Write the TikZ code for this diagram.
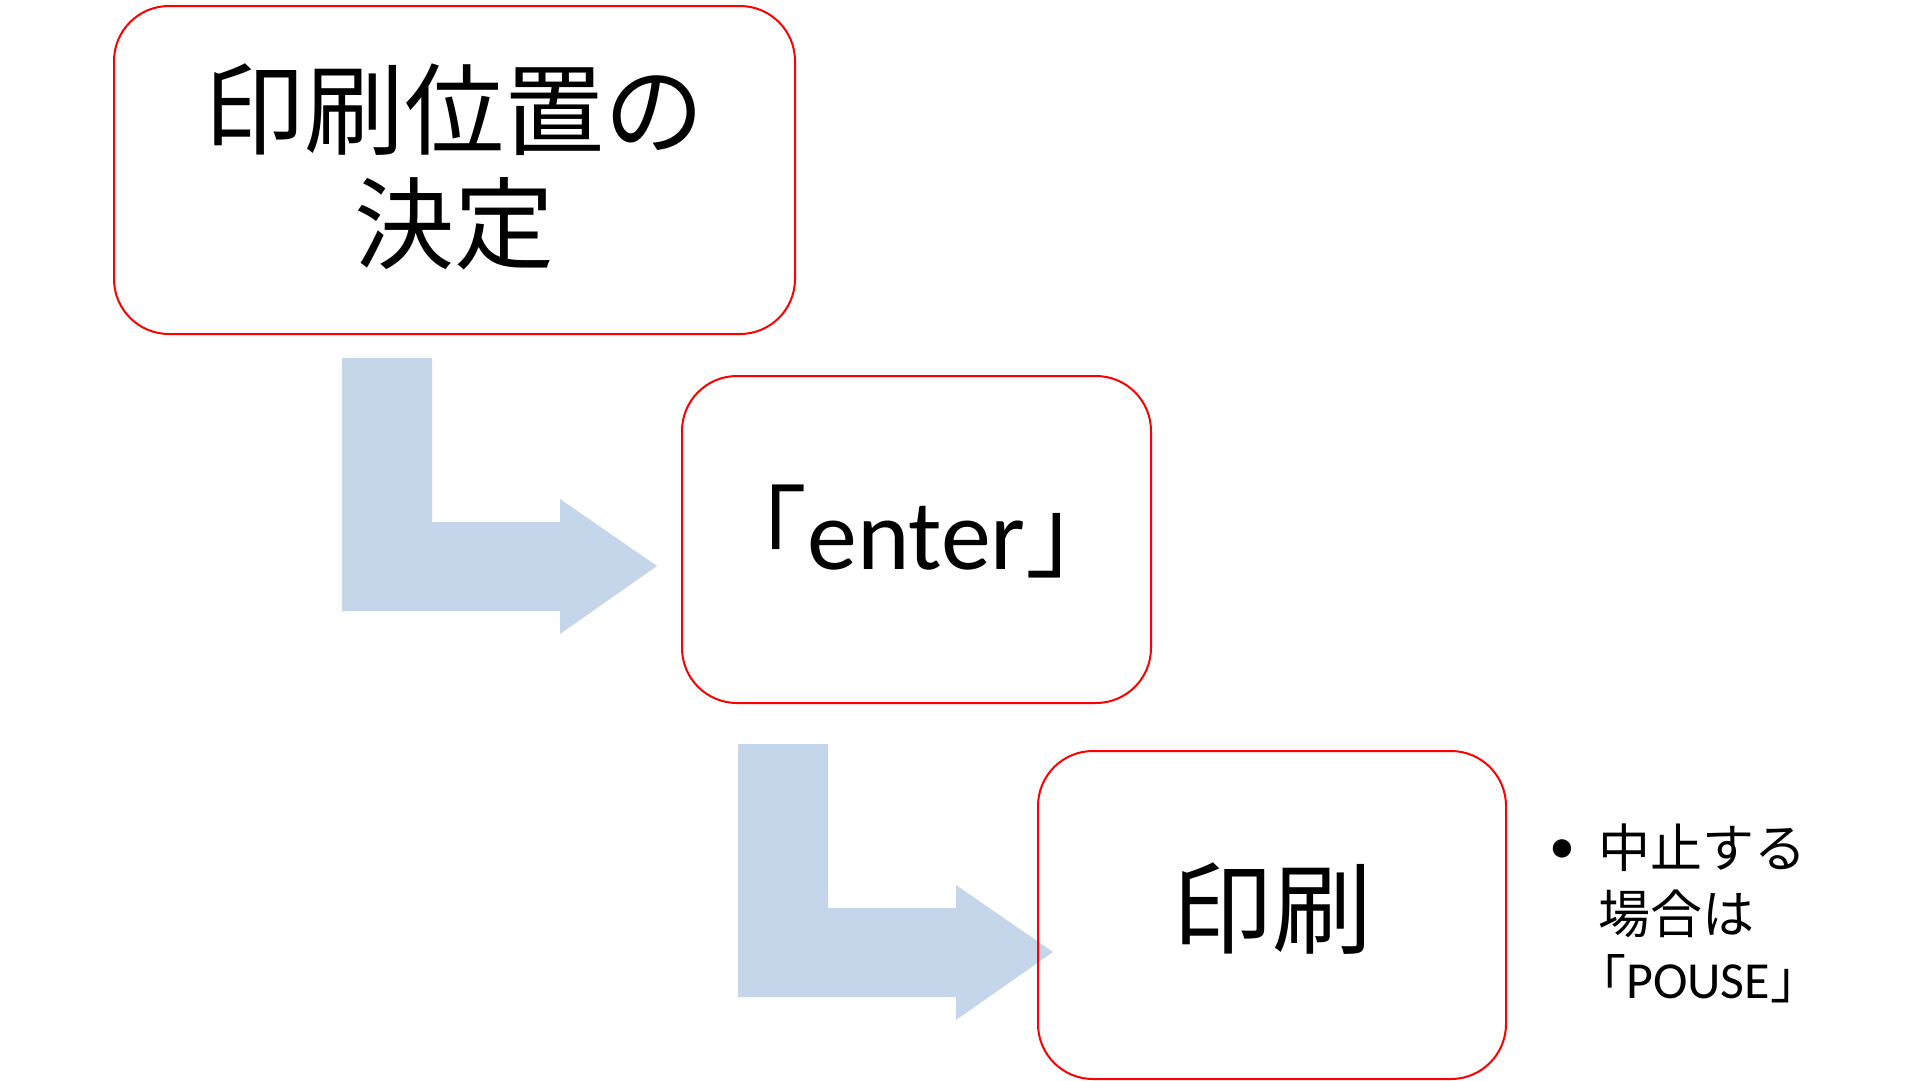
\documentclass[tikz,border=0pt]{standalone}
\usepackage{fontspec}
\setmainfont{Carlito}
\newfontfamily\cjk{Noto Sans CJK JP}
\definecolor{arrowblue}{RGB}{197,213,234}
\definecolor{boxred}{RGB}{255,0,0}
\tikzset{
  flowbox/.style={draw=boxred, line width=2pt, rounded corners=55pt, inner sep=0pt},
  bigtext/.style={font=\fontsize{100}{114}\selectfont, inner sep=0pt, align=center},
  bendarrow/.style={fill=arrowblue, draw=none},
  smalltext/.style={font=\fontsize{52}{65.5}\selectfont\cjk, inner sep=0pt, align=left}
}
\begin{document}
\begin{tikzpicture}[x=1pt,y=-1pt]
\useasboundingbox[fill=white] (0,0) rectangle (1920,1080);
% bent arrows
\fill[bendarrow] (342,358) -- (432,358) -- (432,522) -- (560,522) -- (560,499) -- (657,566) -- (560,634) -- (560,611) -- (342,611) -- cycle;
\fill[bendarrow] (738,744) -- (828,744) -- (828,908) -- (956,908) -- (956,885) -- (1053,952) -- (956,1020) -- (956,997) -- (738,997) -- cycle;
% boxes
\node[flowbox, minimum width=681pt, minimum height=328pt] (b1) at (454.5,170) {};
\node[flowbox, minimum width=469pt, minimum height=327pt] (b2) at (916.5,539.5) {};
\node[flowbox, minimum width=468pt, minimum height=328pt] (b3) at (1272,915) {};
% box texts
\node[bigtext, yshift=3pt] (t1) at (b1) {\cjk 印刷位置の\\\cjk 決定};
\node[bigtext, yshift=8pt] (t2) at (b2) {{\cjk 「}enter{\cjk 」}};
\node[bigtext, yshift=6pt] (t3) at (b3) {\cjk 印刷};
% bullet note
\node[font=\fontsize{52}{60}\selectfont, inner sep=0pt] (bul) at (1562,852) {•};
\node[smalltext, anchor=north west] (note) at (1598,824) {中止する\\場合は\\\hspace*{-24pt}「{\fontspec{Carlito}POUSE}」};
\end{tikzpicture}
\end{document}
